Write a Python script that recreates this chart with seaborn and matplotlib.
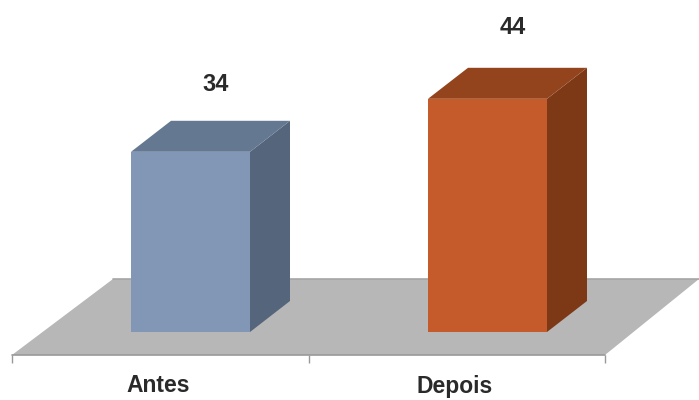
import matplotlib
matplotlib.use("Agg")
import matplotlib.pyplot as plt
from matplotlib.patches import Polygon
import pandas as pd
import seaborn as sns

categories = ["Antes", "Depois"]
values = [34, 44]
front_colors = ["#8297B5", "#C55A2B"]
side_colors = ["#55657B", "#7D3916"]
top_colors = ["#657891", "#93441D"]
label_gap_px = [36, 40]

W, H = 699, 400
PX_PER_CAT = 297.0
PX_PER_UNIT = 5.3
X0_PX, Y0_PX = 190.5, 332.0


def xd(px):
    return (px - X0_PX) / PX_PER_CAT


def yd(py):
    return (Y0_PX - py) / PX_PER_UNIT


sns.set_theme(style="white")
plt.rcParams["font.family"] = ["Liberation Sans", "DejaVu Sans"]
fig = plt.figure(figsize=(W / 100, H / 100), dpi=100)
ax = fig.add_axes([0, 0, 1, 1])

ax.add_patch(Polygon(
    [(xd(12), yd(355)), (xd(605), yd(355)), (xd(699), yd(279)), (xd(113), yd(279))],
    closed=True, facecolor="#B7B7B7", edgecolor="none", zorder=0))
ax.plot([xd(113), xd(699)], [yd(279), yd(279)], color="#A6A6A6", lw=1.2, zorder=1)

df = pd.DataFrame({"cat": categories, "val": values})
sns.barplot(data=df, x="cat", y="val", hue="cat", palette=front_colors, legend=False,
            width=119 / PX_PER_CAT, saturation=1, ax=ax, zorder=3, linewidth=0)

ddx = 40 / PX_PER_CAT
ddy = 31 / PX_PER_UNIT
half = 119 / PX_PER_CAT / 2
for i, v in enumerate(values):
    l, r = i - half, i + half
    ax.add_patch(Polygon([(r, 0), (r + ddx, ddy), (r + ddx, v + ddy), (r, v)],
                         facecolor=side_colors[i], edgecolor="none", zorder=2))
    ax.add_patch(Polygon([(l, v), (r, v), (r + ddx, v + ddy), (l + ddx, v + ddy)],
                         facecolor=top_colors[i], edgecolor="none", zorder=2))
    ax.text(i + 25 / PX_PER_CAT, v + ddy + label_gap_px[i] / PX_PER_UNIT, str(v),
            ha="center", va="center", fontsize=17, fontweight="bold", color="#2A2A2A")

# axis line and ticks along the front edge of the floor
ax.plot([xd(12), xd(605)], [yd(355), yd(355)], color="#999999", lw=1.2, zorder=1)
ax.vlines([xd(12), xd(309), xd(605)], yd(363), yd(355), color="#999999", lw=1.0, zorder=1)

ax.set_xlim(xd(0), xd(W))
ax.set_ylim(yd(H), yd(0))
ax.set_xticks([])
ax.set_yticks([])
ax.set_xlabel("")
ax.set_ylabel("")
for x_px, c in zip((158, 455), categories):
    ax.text(xd(x_px), yd(386), c, ha="center", va="center", fontsize=16.5,
            fontweight="bold", color="#2A2A2A")
sns.despine(ax=ax, left=True, bottom=True)
fig.savefig("out.png", dpi=100)
